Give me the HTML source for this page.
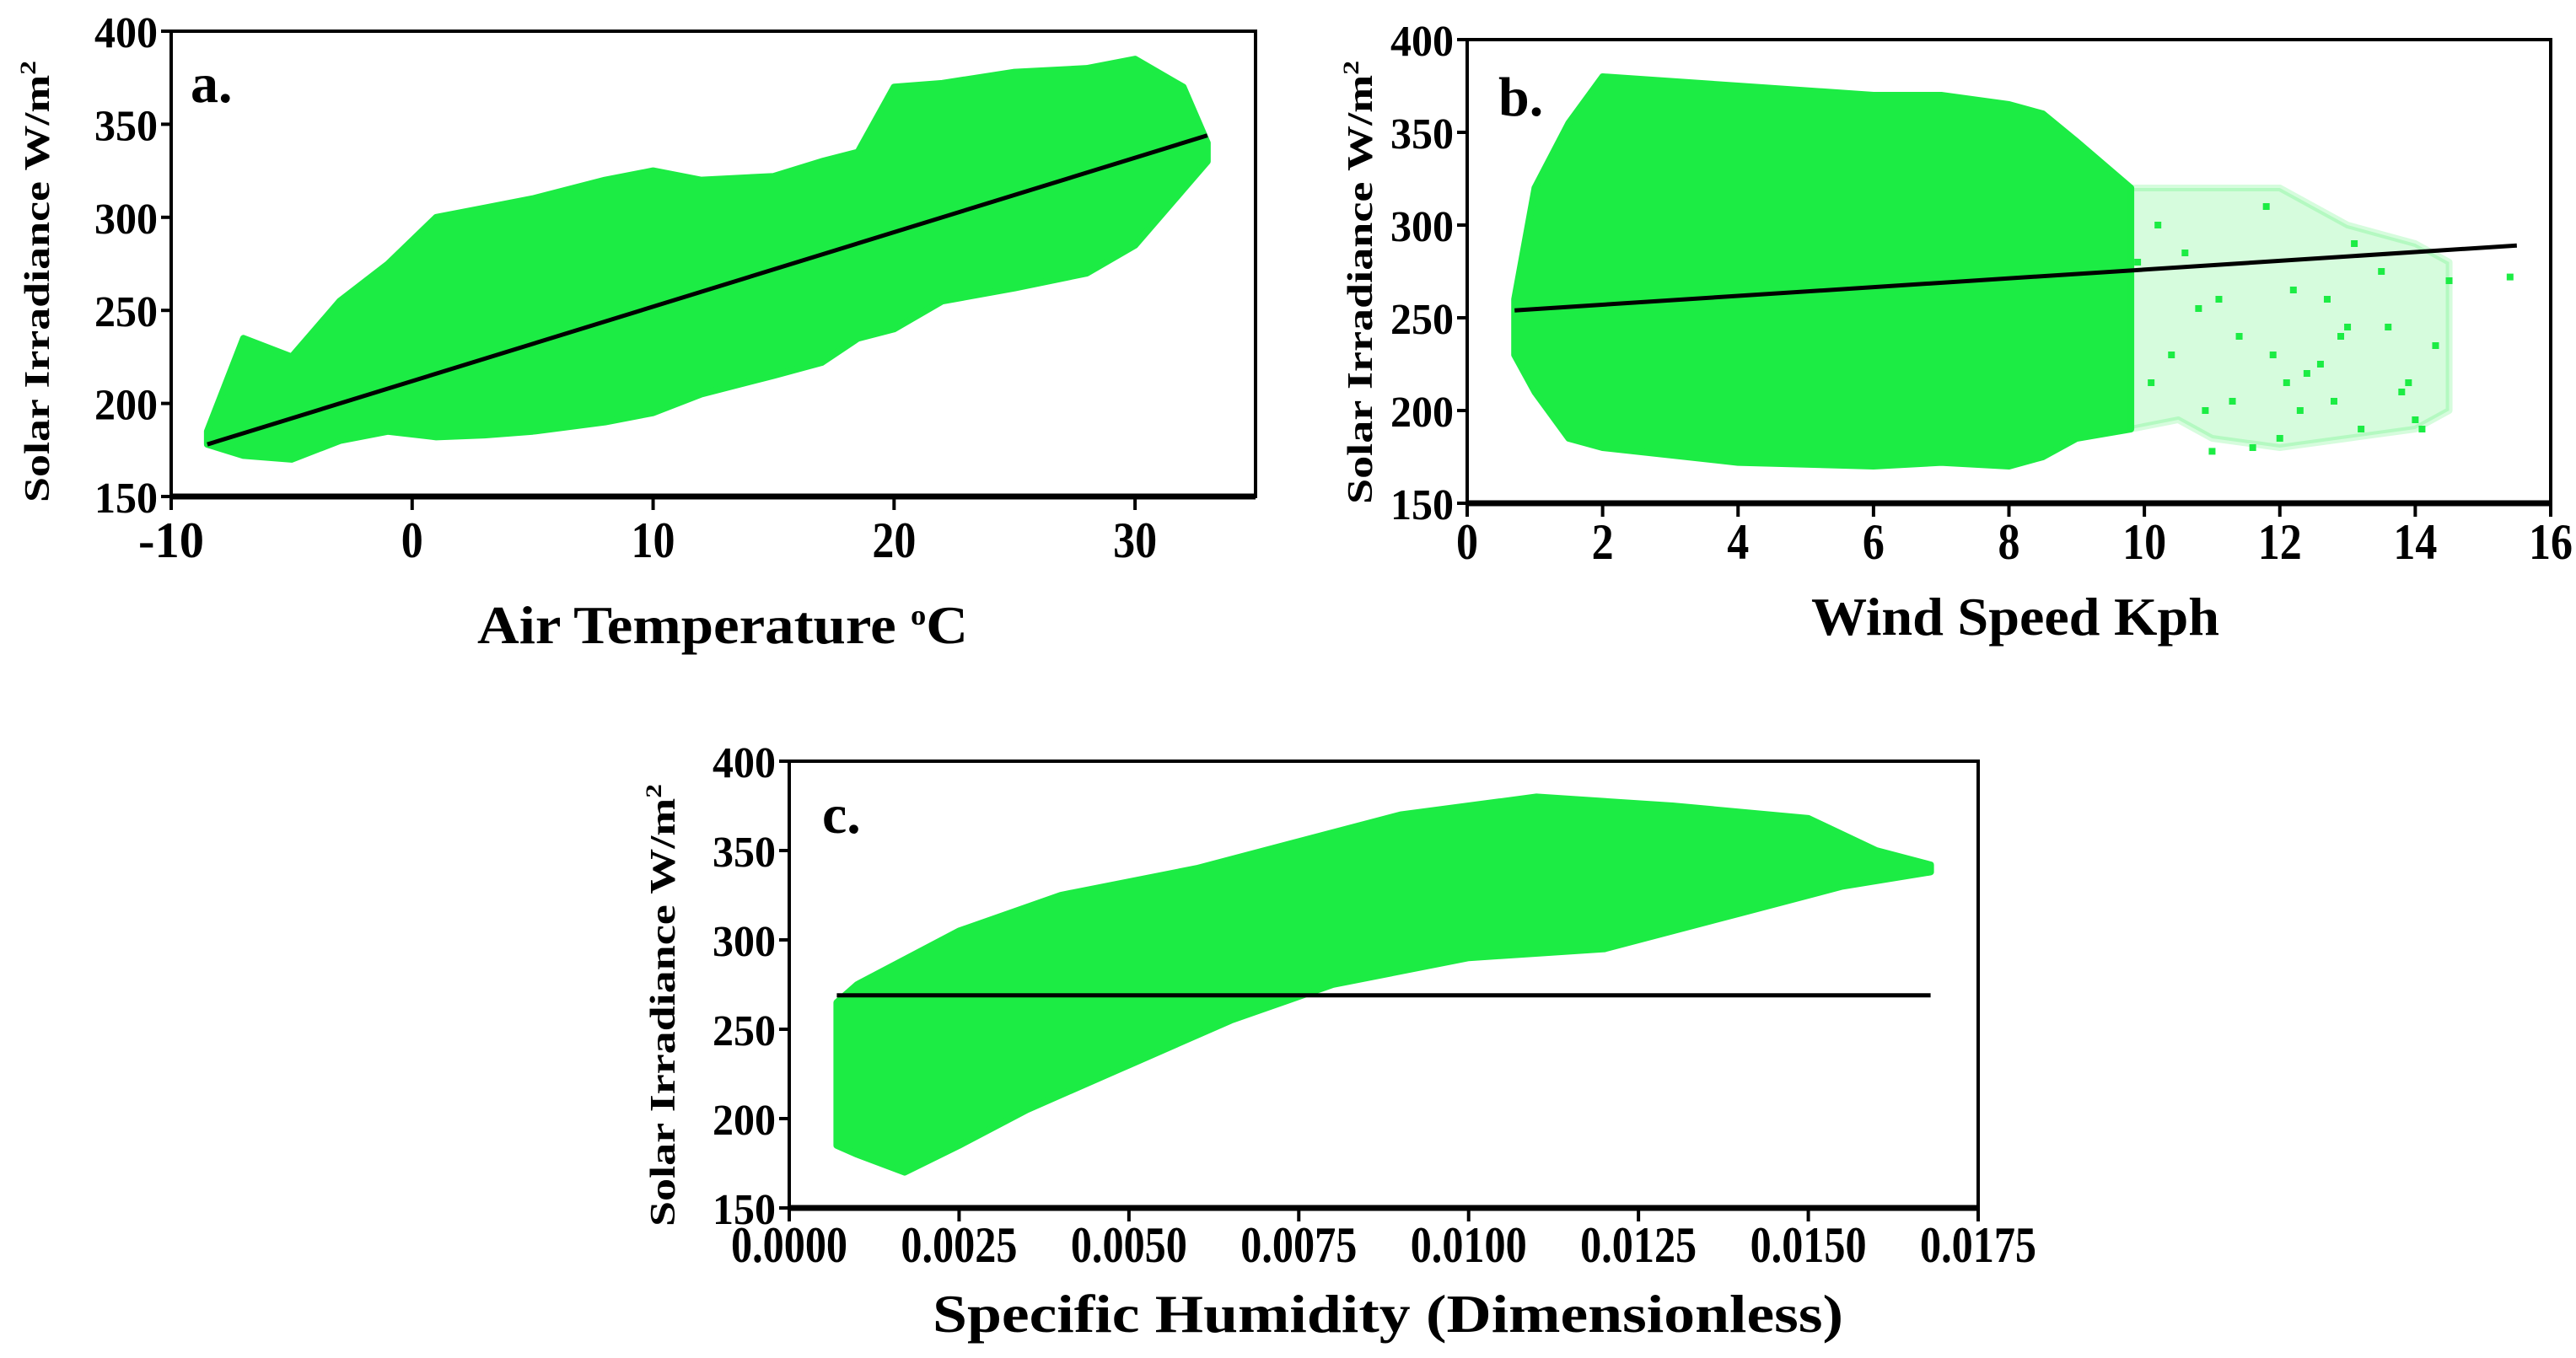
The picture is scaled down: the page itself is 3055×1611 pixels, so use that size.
<!DOCTYPE html>
<html><head><meta charset="utf-8"><style>
html,body{margin:0;padding:0;background:#fff;}
svg{display:block;}
text{font-family:"Liberation Serif",serif;font-weight:bold;fill:#000;}
</style></head><body>
<svg id="fig" width="3055" height="1611" viewBox="0 0 3055 1611"></svg>
<script>
// Panel a: air temperature
const aCloudX = [-8.5,-7,-5,-3,-1,1,3,5,8,10,12,15,17,18.5,20,22,25,28,30,32,33];
const aCloudUpper = [185,235,225,255,275,300,305,310,320,325,320,322,330,335,370,372,378,380,385,370,340];
const aCloudLower = [178,172,170,180,185,182,183,185,190,195,205,215,222,235,240,255,262,270,285,315,330];
const aFitX = [-8.5,33];
const aFitY = [178,344];
const aXTicks = [-10,0,10,20,30];
// Panel b: wind speed
const bCoreX = [0.7,1,1.5,2,4,6,7,8,8.5,9,9.8];
const bCoreUpper = [260,320,355,380,375,370,370,365,360,345,320];
const bCoreLower = [230,210,185,180,172,170,172,170,175,185,190];
const bTailX = [9.8,10.5,11,12,13,14,14.5];
const bTailUpper = [320,320,320,320,300,290,280];
const bTailLower = [190,195,185,180,185,190,200];
const bOutX = [10.2,10.6,11.1,11.4,11.8,12.1,12.4,12.8,13.0,13.2,13.5,13.8,14.0,14.3,14.5,15.4,10.9,11.6,12.2,12.6,13.1,13.9,10.4,11.3,12.0,12.9,13.6,14.1,10.8,11.9,12.3,9.9,10.1,11.0,12.7];
const bOutY = [300,285,260,240,310,215,220,205,245,190,275,210,195,235,270,272,200,180,265,225,290,215,230,205,185,240,245,190,255,230,200,280,215,178,260];
const bFitX = [0.7,15.5];
const bFitY = [254,289];
const bXTicks = [0,2,4,6,8,10,12,14,16];
// Panel c: specific humidity
const cCloudX = [0.0007,0.0010,0.0025,0.0040,0.0060,0.0075,0.0090,0.0110,0.0130,0.0150,0.0160,0.0168];
const cCloudUpper = [265,275,305,325,340,355,370,380,375,368,350,342];
const cLowerX = [0.0007,0.0010,0.0017,0.0025,0.0035,0.0050,0.0065,0.0080,0.0100,0.0120,0.0140,0.0155,0.0168];
const cCloudLower = [185,180,170,185,205,230,255,275,290,295,315,330,338];
const cFitX = [0.0007,0.0168];
const cFitY = [269,269];
const cXTicks = [0,0.0025,0.005,0.0075,0.01,0.0125,0.015,0.0175];
const yTicks = [150,200,250,300,350,400];

const NS='http://www.w3.org/2000/svg';
const svg=document.getElementById('fig');
function mk(tag,attrs,parent){const e=document.createElementNS(NS,tag);for(const k in attrs)e.setAttribute(k,attrs[k]);(parent||svg).appendChild(e);return e;}
const GREEN='#1cec44';

function panel(p){
  const g=mk('g',{});
  
  
  const sx=v=>p.L+(v-p.xmin)/(p.xmax-p.xmin)*(p.R-p.L);
  const sy=v=>p.B-(v-150)/250*(p.B-p.T);
  p.clouds.forEach(c=>{
    let pts=[];
    for(let i=0;i<c.ux.length;i++)pts.push(sx(c.ux[i])+','+sy(c.uy[i]));
    for(let i=c.lx.length-1;i>=0;i--)pts.push(sx(c.lx[i])+','+sy(c.ly[i]));
    const poly=mk('polygon',{points:pts.join(' '),fill:GREEN,'fill-opacity':c.op,stroke:GREEN,'stroke-width':8,'stroke-linejoin':'round','stroke-opacity':c.op},g);
    
    
  });
  if(p.outX){
    for(let i=0;i<p.outX.length;i++){
      const r=mk('rect',{x:sx(p.outX[i])-4,y:sy(p.outY[i])-4,width:8,height:8,fill:GREEN},g);
      
      
    }
  }
  const ln=mk('line',{x1:sx(p.fitX[0]),y1:sy(p.fitY[0]),x2:sx(p.fitX[1]),y2:sy(p.fitY[1]),stroke:'#000','stroke-width':5},g);
  
  
  const fr=mk('rect',{x:p.L,y:p.T,width:p.R-p.L,height:p.B-p.T,fill:'none',stroke:'#000','stroke-width':4},g);
  
  
  mk('line',{x1:p.L,y1:p.B,x2:p.R,y2:p.B,stroke:'#000','stroke-width':7},g);
  p.xt.forEach(v=>{
    const x=sx(v);
    mk('line',{x1:x,y1:p.B,x2:x,y2:p.B+16,stroke:'#000','stroke-width':4},g);
    const s=p.fmt(v);
    const t=mk('text',{x:x,y:p.B+p.xlOff,'font-size':60,'text-anchor':'middle',textLength:s.length*p.cw,lengthAdjust:'spacingAndGlyphs'},g);
    t.textContent=s;
    
    
  });
  yTicks.forEach(v=>{
    const y=sy(v);
    mk('line',{x1:p.L-12,y1:y,x2:p.L,y2:y,stroke:'#000','stroke-width':4},g);
    const t=mk('text',{x:p.L-16,y:y+19,'font-size':52,'text-anchor':'end',textLength:75,lengthAdjust:'spacingAndGlyphs'},g);
    t.textContent=v;
    
    
  });
  const lt=mk('text',{x:p.lx,y:p.ly,'font-size':66},g);
  lt.textContent=p.id+'.';
  
  
  const xt=mk('text',{x:p.xtx,y:p.xty,'font-size':64,textLength:p.xtw,lengthAdjust:'spacingAndGlyphs'},g);
  xt.innerHTML=p.xtitle;
  
  
  const cy=(p.ytop+p.ybot)/2;
  const yt=mk('text',{x:p.ytx,y:cy,'font-size':42,'text-anchor':'middle',transform:'rotate(-90 '+p.ytx+' '+cy+')',textLength:p.ybot-p.ytop,lengthAdjust:'spacingAndGlyphs'},g);
  yt.innerHTML='Solar Irradiance W/m<tspan dy="-16" font-size="26">2</tspan>';
  
  
}

panel({id:'a',L:203,R:1489,T:37,B:589,xmin:-10,xmax:35,xt:aXTicks,fmt:v=>String(v),cw:26,xlOff:72,
  clouds:[{ux:aCloudX,uy:aCloudUpper,lx:aCloudX,ly:aCloudLower,op:1}],
  fitX:aFitX,fitY:aFitY,lx:226,ly:121,xtitle:'Air Temperature <tspan dy="-22" font-size="34">o</tspan><tspan dy="22">C</tspan>',xtx:566,xty:763,xtw:582,
  ytx:58,ytop:72,ybot:596});
panel({id:'b',L:1740,R:3025,T:47,B:597,xmin:0,xmax:16,xt:bXTicks,fmt:v=>String(v),cw:26,xlOff:66,
  clouds:[{ux:bCoreX,uy:bCoreUpper,lx:bCoreX,ly:bCoreLower,op:1},{ux:bTailX,uy:bTailUpper,lx:bTailX,ly:bTailLower,op:0.18}],
  outX:bOutX,outY:bOutY,
  fitX:bFitX,fitY:bFitY,lx:1777,ly:137,xtitle:'Wind Speed Kph',xtx:2148,xty:753,xtw:484,
  ytx:1627,ytop:72,ybot:598});
panel({id:'c',L:936,R:2346,T:903,B:1433,xmin:0,xmax:0.0175,xt:cXTicks,fmt:v=>v.toFixed(4),cw:23,xlOff:64,
  clouds:[{ux:cCloudX,uy:cCloudUpper,lx:cLowerX,ly:cCloudLower,op:1}],
  fitX:cFitX,fitY:cFitY,lx:975,ly:988,xtitle:'Specific Humidity (Dimensionless)',xtx:1106,xty:1580,xtw:1080,
  ytx:800,ytop:930,ybot:1455});
</script>
</body></html>
